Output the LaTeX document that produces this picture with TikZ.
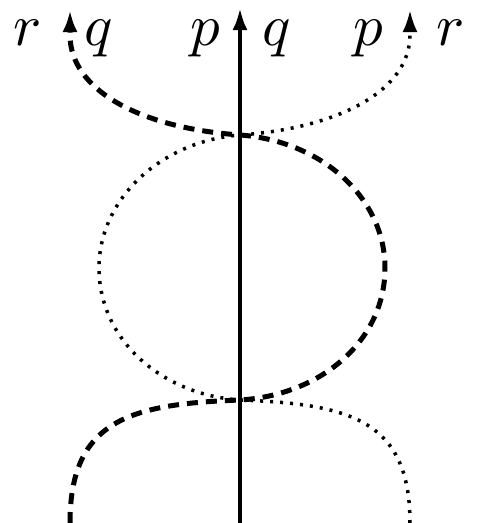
\documentclass[tikz,border=0pt]{standalone}
\usetikzlibrary{arrows.meta}
\begin{document}
\begin{tikzpicture}[x=1pt,y=-1pt,
  tip/.style={-{Latex[length=22pt,width=15pt]}},
  solidline/.style={line width=4pt,tip},
  dashline/.style={line width=5pt,dash pattern=on 11pt off 8pt,tip},
  dotline/.style={line width=3.5pt,dash pattern=on 3pt off 7pt,tip},
  lab/.style={anchor=base,inner sep=0pt,scale=5.9}]
\useasboundingbox (0,0) rectangle (480,523);
\coordinate (cb) at (240,400);
\coordinate (ct) at (240,135);
\coordinate (bl) at (70,523);
\coordinate (br) at (410,523);
\coordinate (bc) at (240,523);
\coordinate (tl) at (70,10);
\coordinate (tr) at (410,10);
\coordinate (tc) at (240,8);
\coordinate (er) at (385,268);
\coordinate (el) at (99,268);
\draw[solidline] (bc) -- (tc);
\draw[dashline] (bl) .. controls (70,420) and (130,404) .. (cb)
  .. controls (322,395) and (385,340) .. (er)
  .. controls (385,198) and (322,141) .. (ct)
  .. controls (140,128) and (70,90) .. (70,35) -- (tl);
\draw[dotline] (br) .. controls (410,420) and (350,404) .. (cb)
  .. controls (162,395) and (99,340) .. (el)
  .. controls (99,198) and (162,141) .. (ct)
  .. controls (340,128) and (410,90) .. (410,35) -- (tr);
\node[lab] (r1) at (28,45) {$r$};
\node[lab] (q1) at (99,45) {$q$};
\node[lab] (p1) at (205,45) {$p$};
\node[lab] (q2) at (277,45) {$q$};
\node[lab] (p2) at (368,45) {$p$};
\node[lab] (r2) at (451,45) {$r$};
\end{tikzpicture}
\end{document}
